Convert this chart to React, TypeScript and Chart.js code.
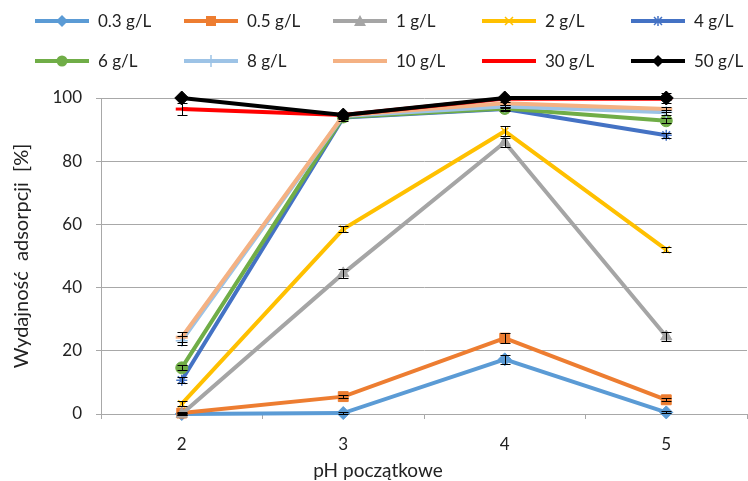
import React, { useEffect, useRef } from "react";
import { Chart, registerables } from "chart.js";

Chart.register(...registerables);

// ---- data ----
const categories = ["2", "3", "4", "5"];
const seriesNames = ["0.3 g/L", "0.5 g/L", "1 g/L", "2 g/L", "4 g/L", "6 g/L", "8 g/L", "10 g/L", "30 g/L", "50 g/L"];
const s03 = [0, 0.3, 17.3, 0.5];
const s05 = [0.3, 5.5, 24, 4.5];
const s1 = [0, 44.5, 86, 24.5];
const s2 = [3.2, 58.5, 89.5, 52];
const s4 = [10.7, 93.8, 96.5, 88.2];
const s6 = [14.6, 94, 96.7, 92.8];
const s8 = [23.2, 94.3, 97.3, 95.5];
const s10 = [24.3, 94.5, 98.3, 96.5];
const s30 = [96.5, 94.6, 99.8, 99.8];
const s50 = [100, 94.6, 100, 100];
const e03 = [0.3, 0.3, 1.5, 0.3];
const e05 = [0.3, 0.5, 1.5, 0.5];
const e1 = [0.3, 1.5, 1.5, 1.5];
const e2 = [0.8, 1.0, 1.5, 0.8];
const e4 = [1.0, 1.0, 0.5, 0.8];
const e6 = [0.8, 0.5, 0.5, 0.8];
const e8 = [1.5, 0.5, 0.5, 0.8];
const e10 = [1.5, 0.5, 0.5, 0.8];
const e30 = [2.0, 0.5, 0.3, 0.3];
const e50 = [0.3, 0.8, 0.3, 1.5];
const yTicks = [0, 20, 40, 60, 80, 100];
const yTitle = "Wydajność  adsorpcji  [%]";
const xTitle = "pH początkowe";

const seriesValues = [s03, s05, s1, s2, s4, s6, s8, s10, s30, s50];
const seriesErrors = [e03, e05, e1, e2, e4, e6, e8, e10, e30, e50];

// ---- styles ----
const colors = ["#5B9BD5", "#ED7D31", "#A5A5A5", "#FFC000", "#4472C4", "#70AD47", "#9DC3E6", "#F4B183", "#FF0000", "#000000"];
const markers = ["rectRot", "rect", "triangle", "crossRot", "star", "circle", "cross", "line", "line", "rectRot"];
const markerRadius = [6.5, 7, 6.5, 5, 5.5, 6, 6, 6, 6, 7];
const markerBorder = [1, 1, 1, 1.5, 1.5, 1, 1.5, 3, 3, 1];
const FONT = "Lato";
const TEXT = "#222222";
const GRID = "#A8A8A8";

const errorBars = {
  id: "errorBars",
  afterDatasetsDraw(chart: any) {
    const ctx = chart.ctx;
    const xs = chart.scales.x;
    const ys = chart.scales.y;
    ctx.save();
    ctx.strokeStyle = "#000000";
    ctx.lineWidth = 1;
    seriesValues.forEach((vals, si) => {
      const errs = seriesErrors[si];
      vals.forEach((v, i) => {
        const e = errs[i];
        const x = Math.round(xs.getPixelForValue(i)) + 0.5;
        const y1 = Math.round(ys.getPixelForValue(v + e)) + 0.5;
        const y2 = Math.round(ys.getPixelForValue(v - e)) + 0.5;
        ctx.beginPath();
        ctx.moveTo(x, y1);
        ctx.lineTo(x, y2);
        ctx.moveTo(x - 5, y1);
        ctx.lineTo(x + 5, y1);
        ctx.moveTo(x - 5, y2);
        ctx.lineTo(x + 5, y2);
        ctx.stroke();
      });
    });
    ctx.restore();
  },
};

function LegendMarker({ idx }: { idx: number }) {
  const c = colors[idx];
  const m = markers[idx];
  const cx = 27, cy = 10;
  let shape: any = null;
  if (m === "rectRot") {
    const r = 6;
    shape = <polygon points={`${cx},${cy - r} ${cx + r},${cy} ${cx},${cy + r} ${cx - r},${cy}`} fill={c} />;
  } else if (m === "rect") {
    shape = <rect x={cx - 5} y={cy - 5} width={10} height={10} fill={c} />;
  } else if (m === "triangle") {
    shape = <polygon points={`${cx},${cy - 6} ${cx + 6},${cy + 5} ${cx - 6},${cy + 5}`} fill={c} />;
  } else if (m === "crossRot") {
    shape = <path d={`M${cx - 4} ${cy - 4}L${cx + 4} ${cy + 4}M${cx - 4} ${cy + 4}L${cx + 4} ${cy - 4}`} stroke={c} strokeWidth={1.5} />;
  } else if (m === "star") {
    shape = <path d={`M${cx - 4} ${cy - 4}L${cx + 4} ${cy + 4}M${cx - 4} ${cy + 4}L${cx + 4} ${cy - 4}M${cx} ${cy - 5}L${cx} ${cy + 5}`} stroke={c} strokeWidth={1.5} />;
  } else if (m === "circle") {
    shape = <circle cx={cx} cy={cy} r={5.5} fill={c} />;
  } else if (m === "cross") {
    shape = <path d={`M${cx} ${cy - 6}L${cx} ${cy + 6}`} stroke={c} strokeWidth={1.5} />;
  }
  return (
    <svg width={54} height={20} style={{ display: "block" }}>
      <line x1={0} y1={cy} x2={54} y2={cy} stroke={c} strokeWidth={4} />
      {shape}
    </svg>
  );
}

export default function App() {
  const ref = useRef<HTMLCanvasElement | null>(null);

  useEffect(() => {
    if (!ref.current) return;
    const chart = new Chart(ref.current, {
      type: "line",
      data: {
        labels: categories,
        datasets: seriesValues.map((vals, i) => ({
          label: seriesNames[i],
          data: vals,
          borderColor: colors[i],
          backgroundColor: colors[i],
          borderWidth: 4,
          pointStyle: markers[i] as any,
          pointRadius: markerRadius[i],
          pointBorderWidth: markerBorder[i],
          pointBorderColor: colors[i],
          pointBackgroundColor: colors[i],
          tension: 0,
          clip: false as any,
          order: 9 - i,
        })),
      },
      options: {
        responsive: false,
        animation: false,
        layout: { autoPadding: false, padding: { top: 98, right: 1, left: 0, bottom: 0 } } as any,
        plugins: {
          legend: { display: false },
          tooltip: { enabled: false },
          title: { display: false },
        },
        font: { family: FONT, size: 17 } as any,
        scales: {
          x: {
            type: "category",
            offset: true,
            grid: {
              offset: true,
              drawOnChartArea: false,
              drawTicks: true,
              tickLength: 5,
              color: GRID,
            },
            border: { color: GRID },
            ticks: {
              color: TEXT,
              font: { family: FONT, size: 17 },
              padding: 15,
              maxRotation: 0,
            },
            afterFit: (s: any) => {
              s.height = 67;
            },
          },
          y: {
            min: 0,
            max: 100,
            afterBuildTicks: (s: any) => {
              s.ticks = yTicks.map((v) => ({ value: v }));
            },
            grid: { color: GRID, tickLength: 5, drawTicks: true },
            border: { color: GRID },
            ticks: {
              color: TEXT,
              font: { family: FONT, size: 17 },
              padding: 14,
            },
            title: {
              display: true,
              text: yTitle,
              color: TEXT,
              font: { family: FONT, size: 20 },
              padding: { top: 10, bottom: 0 },
            },
            afterFit: (s: any) => {
              s.width = 101;
            },
          },
        },
      },
      plugins: [errorBars],
    });
    return () => chart.destroy();
  }, []);

  return (
    <div style={{ position: "absolute", left: 0, top: 0, width: 748, height: 481, overflow: "hidden", background: "#fff", fontFamily: FONT }}>
      <canvas ref={ref} width={748} height={481} style={{ position: "absolute", left: 0, top: 0 }} />
      {seriesNames.map((name, i) => {
        const col = i % 5;
        const row = Math.floor(i / 5);
        const left = 35 + 149 * col;
        const cy = 21 + 40 * row;
        return (
          <div key={name} style={{ position: "absolute", left, top: cy - 10, height: 20, display: "flex", alignItems: "center", whiteSpace: "nowrap" }}>
            <LegendMarker idx={i} />
            <span style={{ marginLeft: 9, fontSize: 17, lineHeight: "20px", color: TEXT }}>{name}</span>
          </div>
        );
      })}
      <div style={{ position: "absolute", left: 0, width: 756, top: 459, textAlign: "center", fontSize: 19, lineHeight: "22px", color: TEXT, whiteSpace: "pre" }}>
        {xTitle}
      </div>
    </div>
  );
}
